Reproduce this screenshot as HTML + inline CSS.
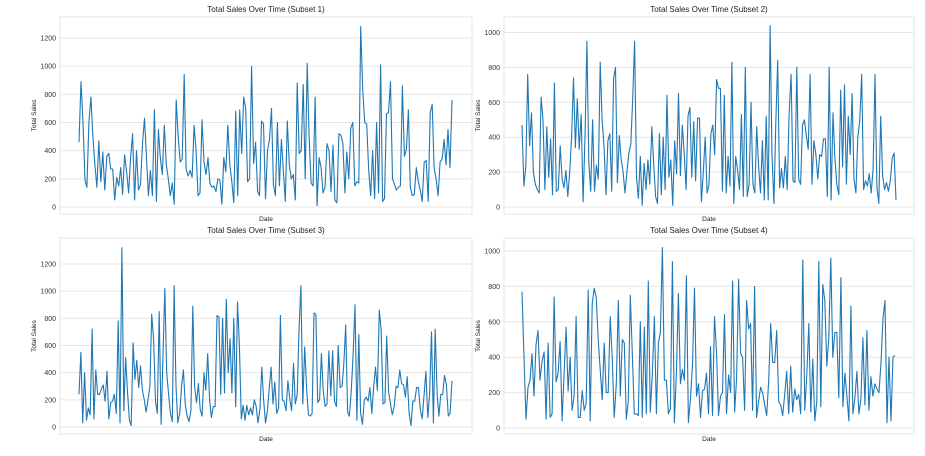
<!DOCTYPE html>
<html><head><meta charset="utf-8"><style>
body{margin:0;background:#fff;}
svg{display:block;font-family:"Liberation Sans",sans-serif;}
</style></head><body>
<svg id="chart" width="925" height="456"></svg>
<script>
const subset1 = [460,890,600,190,140,600,780,500,300,140,470,180,390,120,360,380,270,270,50,210,150,280,90,370,250,100,350,520,50,400,120,160,450,630,350,80,260,80,690,40,550,350,230,580,300,200,80,170,20,760,500,320,340,940,270,220,260,210,580,400,80,100,620,320,230,350,170,140,150,110,200,190,20,350,250,580,300,180,30,680,80,690,380,780,700,180,200,1000,310,460,110,80,610,590,60,400,480,700,160,80,600,150,480,250,40,610,300,200,230,50,880,380,400,870,200,1020,500,170,150,780,10,350,280,100,140,450,400,110,440,50,30,520,510,450,100,390,200,560,600,150,180,170,1280,840,600,590,260,80,400,60,600,100,1010,40,60,660,670,890,200,160,120,140,150,860,360,410,690,140,80,90,280,180,120,40,320,330,40,670,730,280,200,80,320,340,480,300,550,280,760];
const subset2 = [470,120,230,760,350,540,200,130,100,80,630,500,100,460,170,390,70,710,90,100,350,160,110,210,60,200,400,740,340,620,330,530,30,400,950,260,90,500,90,240,160,830,500,340,70,380,420,90,740,800,140,410,270,200,80,200,310,360,620,950,170,50,290,10,250,100,270,130,460,250,60,20,420,70,400,100,640,170,270,10,380,190,650,180,470,310,100,520,570,170,490,150,510,510,30,200,400,80,130,420,470,300,730,680,680,90,640,80,290,120,830,20,290,210,100,530,60,800,60,130,600,130,80,460,230,80,380,40,520,40,1040,300,20,480,840,110,220,110,290,100,530,760,150,140,800,160,130,470,500,410,330,760,130,380,300,160,300,290,390,390,60,800,40,540,280,130,70,670,230,700,130,520,300,650,160,80,400,490,760,100,150,120,190,80,220,760,120,20,520,180,100,140,90,150,280,310,40];
const subset3 = [240,550,30,400,50,140,90,720,60,420,240,240,280,310,190,410,60,180,190,240,100,780,30,1320,120,510,260,50,10,620,350,490,290,450,270,200,110,200,300,830,650,190,100,850,20,500,1020,400,250,100,40,1040,300,30,100,300,420,160,80,40,120,890,300,180,320,130,80,400,270,540,200,70,150,150,820,810,240,800,250,940,400,650,250,800,150,920,600,60,160,50,160,90,140,90,200,150,30,130,440,200,30,120,280,440,170,330,100,140,820,200,190,120,340,210,120,470,170,240,730,1040,170,590,300,90,80,100,840,830,180,200,540,260,150,170,560,230,560,190,150,600,290,300,460,750,110,80,270,550,900,50,680,100,20,200,220,190,290,100,300,440,270,860,720,170,180,670,260,170,90,150,300,290,420,320,310,220,370,100,10,190,190,290,290,130,60,230,410,70,240,700,30,720,250,80,240,240,380,310,80,100,340];
const subset4 = [770,400,50,230,270,420,180,470,550,270,380,430,50,480,60,80,740,260,310,490,40,310,570,210,400,100,180,630,60,60,210,100,140,780,40,700,790,740,500,330,160,480,200,200,630,400,60,250,720,180,500,480,50,150,750,420,80,80,70,600,60,570,80,830,90,300,630,80,480,540,1020,270,270,80,110,940,30,310,760,250,330,270,860,30,170,360,790,180,250,60,210,220,310,80,460,70,630,430,70,180,200,640,80,300,200,830,90,280,840,420,400,100,720,560,590,100,800,60,150,230,200,130,70,270,590,370,370,550,150,130,70,190,320,80,350,90,220,160,190,80,950,100,300,590,90,390,40,150,940,120,810,720,350,510,960,400,540,540,170,850,120,310,180,40,690,80,170,320,80,160,510,130,550,100,290,180,250,220,200,370,620,720,30,400,40,400,410];
const ticks1 = [0,200,400,600,800,1000,1200];
const ticks2 = [0,200,400,600,800,1000];
const titles = ["Total Sales Over Time (Subset 1)","Total Sales Over Time (Subset 2)","Total Sales Over Time (Subset 3)","Total Sales Over Time (Subset 4)"];

const NS="http://www.w3.org/2000/svg";
const svg=document.getElementById('chart');
function mk(tag,attrs,parent){const e=document.createElementNS(NS,tag);for(const k in attrs)e.setAttribute(k,attrs[k]);(parent||svg).appendChild(e);return e;}

const panels=[
 {data:subset1,ticks:ticks1,L:60,R:472,T:17,B:214,x0:79,x1:452,y0:207,vTop:1200,yTop:38},
 {data:subset2,ticks:ticks2,L:504,R:914,T:17,B:214,x0:522,x1:896,y0:207,vTop:1000,yTop:32.5},
 {data:subset3,ticks:ticks1,L:60,R:472,T:238,B:434,x0:79,x1:452,y0:427,vTop:1200,yTop:264},
 {data:subset4,ticks:ticks2,L:504,R:914,T:238,B:434,x0:522,x1:895,y0:428,vTop:1000,yTop:251}
];
panels.forEach((p,i)=>{
  const g=mk('g',{});
  
  
  const yS=v=>p.y0-(v/p.vTop)*(p.y0-p.yTop);
  const xS=k=>p.x0+k*(p.x1-p.x0)/(p.data.length-1);
  const bg=mk('rect',{x:p.L,y:p.T,width:p.R-p.L,height:p.B-p.T,fill:'#fff',stroke:'#e3e3e3','stroke-width':1},g);
  
  
  p.ticks.forEach(t=>{
    const y=yS(t);
    const gl=mk('line',{x1:p.L,x2:p.R,y1:y,y2:y,stroke:'#e6e6e6','stroke-width':1},g);
    
    
    const tl=mk('text',{x:p.L-4,y:y+2.5,'text-anchor':'end','font-size':7,fill:'#333'},g);
    
    
    tl.textContent=t;
  });
  const d=p.data.map((v,k)=>(k?'L':'M')+xS(k).toFixed(1)+','+yS(v).toFixed(1)).join('');
  const ln=mk('path',{d:d,fill:'none',stroke:'#1f77b4','stroke-width':1.1,'stroke-linejoin':'round'},g);
  
  
  const tt=mk('text',{x:(p.L+p.R)/2,y:p.T-5,'text-anchor':'middle','font-size':8,fill:'#222'},g);
  
  
  tt.textContent=titles[i];
  const xl=mk('text',{x:(p.L+p.R)/2,y:p.B+7,'text-anchor':'middle','font-size':6.5,fill:'#222'},g);
  
  
  xl.textContent='Date';
  const yc=(p.T+p.B)/2, yx=p.L-24;
  const yl=mk('text',{x:yx,y:yc,'text-anchor':'middle','font-size':6.5,fill:'#222',transform:`rotate(-90 ${yx} ${yc})`},g);
  
  
  yl.textContent='Total Sales';
});
</script>
</body></html>
